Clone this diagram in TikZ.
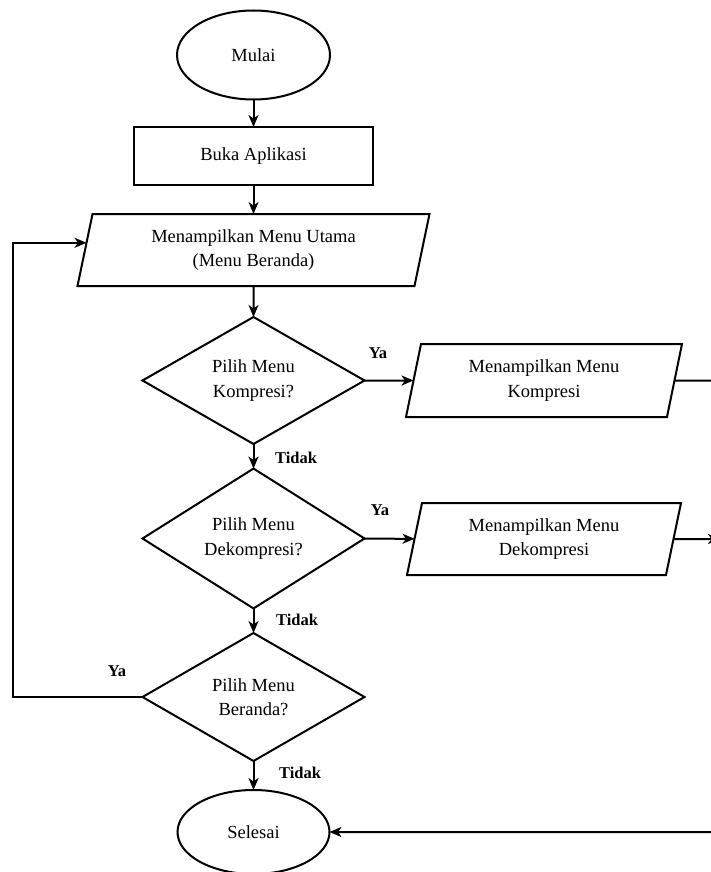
\documentclass[tikz,border=0pt]{standalone}
\usepackage{fontspec}
\setmainfont{Liberation Serif}
\usetikzlibrary{shapes.geometric,arrows.meta,calc}
\begin{document}
\begin{tikzpicture}[x=1pt,y=-1pt,
  every node/.style={font=\fontsize{18.5}{24.5}\selectfont},
  base/.style={draw, line width=2pt, inner sep=0pt, outer sep=0pt, align=center},
  term/.style={base, ellipse},
  proc/.style={base, rectangle},
  io/.style={base, trapezium, trapezium left angle=70, trapezium right angle=110, trapezium stretches body},
  dec/.style={base, diamond},
  lbl/.style={font=\fontsize{16.5}{20}\selectfont\bfseries, inner sep=0pt},
  conn/.style={line width=2pt, -{Stealth[length=12pt,width=10pt,inset=3.5pt]}}
]
\fill[white] (0,0) rectangle (711,872);
\useasboundingbox (0,0) rectangle (711,872);
\clip (0,0) rectangle (711,872);

\node[term, minimum width=153pt, minimum height=89pt] (start) at (253.5,55) {Mulai};
\node[proc, minimum width=239pt, minimum height=58pt] (buka) at (253.5,156) {Buka Aplikasi};
\node[io, minimum width=352pt, minimum height=72pt] (utama) at (253.5,250) {Menampilkan Menu Utama\\(Menu Beranda)};
\node[dec, minimum width=222pt, minimum height=127pt] (d1) at (253.5,380.5) {Pilih Menu\\Kompresi?};
\node[io, minimum width=276pt, minimum height=73pt] (komp) at (544,380.5) {Menampilkan Menu\\Kompresi};
\node[dec, minimum width=222pt, minimum height=127pt] (d2) at (253.5,538.5) {Pilih Menu\\Dekompresi?};
\node[io, minimum width=274pt, minimum height=72pt] (dekomp) at (544,539) {Menampilkan Menu\\Dekompresi};
\node[dec, minimum width=222pt, minimum height=128pt] (d3) at (253.5,697) {Pilih Menu\\Beranda?};
\node[term, minimum width=152pt, minimum height=84pt] (end) at (253.5,832) {Selesai};

\node[lbl] (ya1) at (378,353) {Ya};
\node[lbl] (tidak1) at (296,458) {Tidak};
\node[lbl] (ya2) at (380,510) {Ya};
\node[lbl] (tidak2) at (297,620) {Tidak};
\node[lbl] (ya3) at (117,671) {Ya};
\node[lbl] (tidak3) at (300,773) {Tidak};

\coordinate (uin) at ($(utama.top left corner)!0.4!(utama.bottom left corner)$);
\coordinate (lb) at (13,697);
\coordinate (rt) at (716,380.5);
\coordinate (dk) at (720,539);

\draw[conn] (start) -- (buka);
\draw[conn] (buka) -- (utama);
\draw[conn] (utama) -- (d1);
\draw[conn] (d1) -- (komp);
\draw[conn] (d1) -- (d2);
\draw[conn] (d2) -- (dekomp);
\draw[conn] (d2) -- (d3);
\draw[conn] (d3) -- (end);
\draw[conn] (d3.west) -- (lb) |- (uin);
\draw[conn] (komp.east) -- (rt) |- (end.east);
\draw[conn] (dekomp.east) -- (dk);
\end{tikzpicture}
\end{document}
